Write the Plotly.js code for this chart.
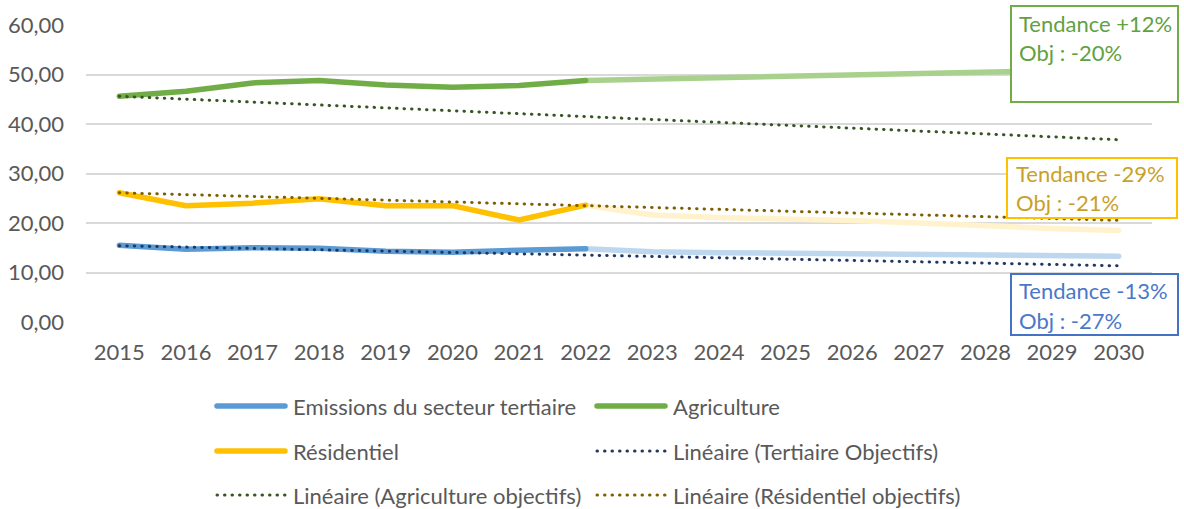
<!DOCTYPE html>
<html>
<head>
<meta charset="utf-8">
<script src="https://cdn.plot.ly/plotly-3.0.1.min.js"></script>
<style>
  html, body { margin: 0; padding: 0; background: #ffffff; }
  #chart { width: 1184px; height: 509px; }
  .scatterlayer .js-line { stroke-linecap: round; stroke-linejoin: round; }
  .shapelayer path { stroke-linecap: round; }
</style>
</head>
<body>
<div id="chart"></div>
<script>
// ---- Data ----
const years = ['2015','2016','2017','2018','2019','2020','2021','2022','2023','2024','2025','2026','2027','2028','2029','2030'];
const yTickValues = [0, 10, 20, 30, 40, 50, 60];

const tertiaire   = [15.5, 14.7, 15.0, 14.9, 14.3, 14.1, 14.5, 14.8, null, null, null, null, null, null, null, null];
const agriculture = [45.6, 46.6, 48.3, 48.8, 47.9, 47.4, 47.8, 48.8, null, null, null, null, null, null, null, null];
const residentiel = [26.1, 23.5, 24.0, 24.9, 23.5, 23.5, 20.6, 23.6, null, null, null, null, null, null, null, null];

const tertiaireTendance   = [null, null, null, null, null, null, null, 14.8, 14.2, 14.0, 13.9, 13.8, 13.7, 13.6, 13.4, 13.3];
const agricultureTendance = [null, null, null, null, null, null, null, 48.8, 49.1, 49.3, 49.6, 49.9, 50.3, 50.6, 50.8, 51.0];
const residentielTendance = [null, null, null, null, null, null, null, 23.6, 21.6, 21.1, 20.9, 20.5, 20.0, 19.4, 18.9, 18.5];

const tertiaireObjectif   = [15.40, 15.13, 14.86, 14.59, 14.32, 14.05, 13.78, 13.51, 13.24, 12.97, 12.70, 12.43, 12.16, 11.89, 11.62, 11.35];
const agricultureObjectif = [45.60, 45.01, 44.43, 43.84, 43.26, 42.67, 42.09, 41.50, 40.92, 40.33, 39.75, 39.16, 38.58, 37.99, 37.41, 36.82];
const residentielObjectif = [26.10, 25.73, 25.36, 24.99, 24.61, 24.24, 23.87, 23.50, 23.13, 22.76, 22.39, 22.01, 21.64, 21.27, 20.90, 20.53];

const seriesNames = ['Emissions du secteur tertiaire', 'Agriculture', 'Résidentiel',
  'Linéaire (Tertiaire Objectifs)', 'Linéaire (Agriculture objectifs)', 'Linéaire (Résidentiel objectifs)'];
const boxTexts = [['Tendance +12%', 'Obj : -20%'], ['Tendance -29%', 'Obj : -21%'], ['Tendance -13%', 'Obj : -27%']];

// ---- Styles ----
const FONT = 'Lato, "Open Sans", sans-serif';
const FS = 22;
const TXT = '#595959';
const C = {
  blue: '#5B9BD5', green: '#70AD47', yellow: '#FFC000',
  blueL: '#BDD7EE', greenL: '#A9D18E', yellowL: '#FFF2CC',
  navy: '#203864', dgreen: '#375623', ochre: '#7F6000'
};
const W = 1184, H = 509, ML = 86, MR = 32, MT = 25, MB = 187;
const PW = W - ML - MR, PH = H - MT - MB;
const px = x => (x - ML) / PW;
const py = y => (H - MB - y) / PH;
const DOT = '0.5px,7px';

function line(y, name, color, width, dash) {
  return { x: years, y: y, name: name, type: 'scatter', mode: 'lines', hoverinfo: 'skip',
    line: { color: color, width: width, dash: dash || 'solid' }, showlegend: false, connectgaps: false };
}

const traces = [
  line(tertiaireTendance, 'Tertiaire tendance', C.blueL, 5.5),
  line(agricultureTendance, 'Agriculture tendance', C.greenL, 5.5),
  line(residentielTendance, 'Résidentiel tendance', C.yellowL, 5.5),
  line(tertiaire, seriesNames[0], C.blue, 5.5),
  line(agriculture, seriesNames[1], C.green, 5.5),
  line(residentiel, seriesNames[2], C.yellow, 5.5),
  line(tertiaireObjectif, seriesNames[3], C.navy, 3, DOT),
  line(agricultureObjectif, seriesNames[4], C.dgreen, 3, DOT),
  line(residentielObjectif, seriesNames[5], C.ochre, 3, DOT)
];

// ---- Manual legend ----
const shapes = [];
const annotations = [];
const legendItems = [
  { col: 0, row: 0, color: C.blue, w: 5.5, dash: 'solid' },
  { col: 1, row: 0, color: C.green, w: 5.5, dash: 'solid' },
  { col: 0, row: 1, color: C.yellow, w: 5.5, dash: 'solid' },
  { col: 1, row: 1, color: C.navy, w: 3, dash: DOT },
  { col: 0, row: 2, color: C.dgreen, w: 3, dash: DOT },
  { col: 1, row: 2, color: C.ochre, w: 3, dash: DOT }
];
const colX = [215, 595], rowY = [406, 451, 495];
legendItems.forEach((it, i) => {
  const x0 = colX[it.col], y = rowY[it.row];
  shapes.push({ type: 'line', xref: 'paper', yref: 'paper', x0: px(x0 + 2), x1: px(x0 + 70), y0: py(y), y1: py(y),
    line: { color: it.color, width: it.w, dash: it.dash } });
  annotations.push({ xref: 'paper', yref: 'paper', x: px(x0 + 76), y: py(y), xanchor: 'left', yanchor: 'middle',
    text: seriesNames[i], showarrow: false, font: { family: FONT, size: FS, color: TXT } });
});

// ---- Boxes ----
const boxes = [
  { x0: 1011, x1: 1178, y0: 6, y1: 102, color: C.green, text: '#62A140', tx: 1017, l1: 23, l2: 52 },
  { x0: 1007, x1: 1177, y0: 158, y1: 218, color: C.yellow, text: '#C9A02A', tx: 1014, l1: 173, l2: 202 },
  { x0: 1011, x1: 1178, y0: 274, y1: 335, color: '#4472C4', text: '#4A78C8', tx: 1017, l1: 290, l2: 320 }
];
boxes.forEach((b, i) => {
  shapes.push({ type: 'rect', layer: 'above', xref: 'paper', yref: 'paper', x0: px(b.x0), x1: px(b.x1), y0: py(b.y0), y1: py(b.y1),
    fillcolor: '#ffffff', line: { color: b.color, width: 2 } });
  [b.l1, b.l2].forEach((ly, j) => {
    annotations.push({ xref: 'paper', yref: 'paper', x: px(b.tx), y: py(ly), xanchor: 'left', yanchor: 'middle',
      text: boxTexts[i][j], showarrow: false, font: { family: FONT, size: FS, color: b.text } });
  });
});

const layout = {
  width: W, height: H, autosize: false,
  margin: { l: ML, r: MR, t: MT, b: MB, pad: 0 },
  paper_bgcolor: '#ffffff', plot_bgcolor: '#ffffff',
  separators: ', ',
  showlegend: false,
  font: { family: FONT, size: FS, color: TXT },
  xaxis: {
    type: 'category', range: [-0.5, 15.5], showgrid: false, zeroline: false, showline: false,
    ticks: '', ticklabelstandoff: 15, tickfont: { family: FONT, size: FS, color: TXT }, fixedrange: true
  },
  yaxis: {
    range: [0, 60], tickvals: yTickValues, tickformat: '.2f', showgrid: true, gridcolor: '#D9D9D9', gridwidth: 2,
    zeroline: false, showline: false, ticks: '', ticklabelstandoff: 21,
    tickfont: { family: FONT, size: FS, color: TXT }, fixedrange: true
  },
  shapes: shapes,
  annotations: annotations
};

Plotly.newPlot('chart', traces, layout, { displayModeBar: false, staticPlot: true });
</script>
</body>
</html>
